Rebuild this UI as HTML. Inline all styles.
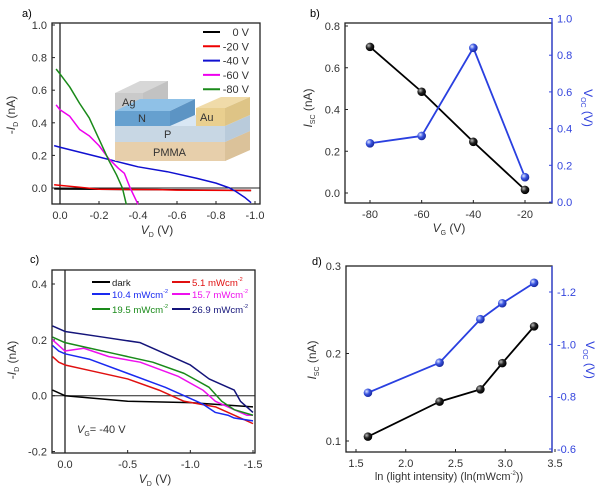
<!DOCTYPE html>
<html><head><meta charset="utf-8"><style>
body{margin:0;background:#fff;width:600px;height:497px;overflow:hidden}
svg{font-family:"Liberation Sans",sans-serif;display:block}
</style></head><body>
<svg id="fig" width="600" height="497" viewBox="0 0 600 497">
<defs>
<radialGradient id="gk" cx="35%" cy="35%" r="65%"><stop offset="0" stop-color="#bbb"/><stop offset="0.5" stop-color="#222"/><stop offset="1" stop-color="#000"/></radialGradient>
<radialGradient id="gb" cx="35%" cy="35%" r="65%"><stop offset="0" stop-color="#dfe6ff"/><stop offset="0.5" stop-color="#3a55e0"/><stop offset="1" stop-color="#1a2aa0"/></radialGradient>
</defs>
<g id="inset" opacity="0.92">
<polygon points="115,142 225,142 250,131 250,150 225,161 115,161" fill="#e6cca4"/>
<polygon points="225,142 250,131 250,150 225,161" fill="#d8bd92"/>
<polygon points="115,126 225,126 225,142 115,142" fill="#c4d4e2"/>
<polygon points="225,126 250,115 250,131 225,142" fill="#b4c7d8"/>
<polygon points="170,126 195,115 221,115 196,126" fill="#d6e6f4"/>
<polygon points="196,108 225,108 250,97 221,97" fill="#efd9a2"/>
<polygon points="196,108 225,108 225,126 196,126" fill="#e8cb86"/>
<polygon points="225,108 250,97 250,115 225,126" fill="#dcc07c"/>
<polygon points="140,81 168,81 168,111 143,111 143,93" fill="#bdbdbd"/>
<polygon points="115,93 143,93 168,81 140,81" fill="#d4d4d4"/>
<polygon points="115,93 143,93 143,111 115,111" fill="#c6c6c6"/>
<polygon points="115,111 170,111 195,99 140,99" fill="#86bce6"/>
<polygon points="115,111 170,111 170,126 115,126" fill="#5a98cc"/>
<polygon points="170,111 195,99 195,115 170,126" fill="#4f8cc0"/>
<text x="122" y="106" font-size="11" fill="#222">Ag</text>
<text x="138" y="122" font-size="11" fill="#222">N</text>
<text x="200" y="121" font-size="11" fill="#222">Au</text>
<text x="164" y="138" font-size="11" fill="#222">P</text>
<text x="153" y="156" font-size="11" fill="#222">PMMA</text>
</g>
</svg>
<script>
// ---------- data ----------
const aSeriesNames=["0 V","-20 V","-40 V","-60 V","-80 V"];
const aX0=[0.03,0,-0.2,-0.5,-0.8,-0.98];
const aY0=[-0.005,-0.006,-0.008,-0.01,-0.013,-0.015];
const aX20=[0.03,0,-0.1,-0.2,-0.5,-0.6,-0.98];
const aY20=[0.02,0.016,0.005,-0.008,-0.01,-0.013,-0.015];
const aX40=[0.03,0,-0.1,-0.2,-0.3,-0.4,-0.55,-0.7,-0.8,-0.87,-0.9,-0.95,-0.98];
const aY40=[0.26,0.25,0.22,0.19,0.16,0.13,0.10,0.06,0.03,0,-0.02,-0.06,-0.09];
const aX60=[0.02,0,-0.05,-0.1,-0.15,-0.2,-0.25,-0.3,-0.33,-0.36,-0.4];
const aY60=[0.51,0.48,0.44,0.36,0.32,0.26,0.18,0.12,0.09,0,-0.1];
const aX80=[0.02,0,-0.05,-0.1,-0.15,-0.2,-0.25,-0.29,-0.32,-0.34];
const aY80=[0.73,0.70,0.62,0.52,0.43,0.30,0.17,0.08,0.0,-0.1];
const bVg=[-80,-60,-40,-20];
const bIsc=[0.70,0.485,0.245,0.015];
const bVoc=[0.32,0.36,0.84,0.135];
const cNames=["dark","5.1 mWcm","10.4 mWcm","15.7 mWcm","19.5 mWcm","26.9 mWcm"];
const cXdark=[0.1,0,-0.5,-1.0,-1.5];
const cYdark=[0.02,0.0,-0.02,-0.025,-0.04];
const cX5=[0.1,0.05,0,-0.2,-0.5,-0.75,-0.85,-0.95,-1.2,-1.35,-1.5];
const cY5=[0.14,0.12,0.11,0.09,0.06,0.02,0,-0.02,-0.04,-0.07,-0.1];
const cX10=[0.1,0.05,0,-0.2,-0.5,-0.8,-0.95,-1.1,-1.2,-1.3,-1.35,-1.5];
const cY10=[0.18,0.16,0.15,0.13,0.08,0.03,0,-0.03,-0.06,-0.07,-0.08,-0.09];
const cX15=[0.1,0,-0.15,-0.35,-0.6,-0.9,-1.1,-1.2,-1.35,-1.45,-1.5];
const cY15=[0.2,0.16,0.17,0.14,0.12,0.07,0.02,-0.02,-0.05,-0.07,-0.07];
const cX19=[0.1,0,-0.2,-0.4,-0.7,-0.95,-1.15,-1.25,-1.35,-1.5];
const cY19=[0.21,0.19,0.17,0.15,0.12,0.08,0.03,-0.02,-0.05,-0.07];
const cX26=[0.1,0,-0.3,-0.6,-0.85,-1.0,-1.15,-1.3,-1.35,-1.4,-1.5];
const cY26=[0.25,0.23,0.21,0.19,0.14,0.11,0.06,0.03,0.02,-0.02,-0.06];
const dLn=[1.62,2.34,2.75,2.97,3.29];
const dIsc=[0.105,0.145,0.159,0.189,0.231];
const dVoc=[-0.815,-0.93,-1.096,-1.157,-1.235];
const aXTicks=[0,-0.2,-0.4,-0.6,-0.8,-1.0];
const aYTicks=[0.0,0.2,0.4,0.6,0.8,1.0];
const bXTicks=[-80,-60,-40,-20];
const bYTicks=[0.0,0.2,0.4,0.6,0.8];
const bY2Ticks=[0.0,0.2,0.4,0.6,0.8,1.0];
const cXTicks=[0.0,-0.5,-1.0,-1.5];
const cYTicks=[-0.2,0.0,0.2,0.4];
const dXTicks=[1.5,2.0,2.5,3.0,3.5];
const dYTicks=[0.1,0.2,0.3];
const dY2Ticks=[-0.6,-0.8,-1.0,-1.2];

// ---------- helpers ----------
const S=document.getElementById('fig');const NS='http://www.w3.org/2000/svg';
const inset=document.getElementById('inset');
function mk(t,at,parent){const e=document.createElementNS(NS,t);for(const k in at)e.setAttribute(k,at[k]);(parent||S).insertBefore(e,parent?null:inset);return e;}
function lin(d0,d1,p0,p1){return v=>p0+(v-d0)*(p1-p0)/(d1-d0);}
function fmt(v,n){return (v<0?'-':'')+Math.abs(v).toFixed(n);}
function box(x0,y0,x1,y1,name){const r=mk('rect',{x:x0,y:y0,width:x1-x0,height:y1-y0,fill:'none',stroke:'#222','stroke-width':1.3});}
function xTicks(ticks,sx,y,n,name){ticks.forEach(t=>{mk('line',{x1:sx(t),x2:sx(t),y1:y,y2:y-3,stroke:'#222'});const e=mk('text',{x:sx(t),y:y+15,'font-size':11,'text-anchor':'middle',fill:'#333'});e.textContent=t===0?'0'+(n?'.'+'0'.repeat(n):''):fmt(t,n);});}
function yTicks(ticks,sy,x,n,name,right,col){ticks.forEach(t=>{mk('line',{x1:x,x2:right?x-3:x+3,y1:sy(t),y2:sy(t),stroke:col||'#222'});const e=mk('text',{x:right?x+5:x-5,y:sy(t)+4,'font-size':11,'text-anchor':right?'start':'end',fill:col||'#333'});e.textContent=fmt(t,n);});}
function line(xs,ys,sx,sy,col,name,w){const p=mk('polyline',{points:xs.map((v,i)=>sx(v)+','+sy(ys[i])).join(' '),fill:'none',stroke:col,'stroke-width':w||1.5,'stroke-linejoin':'round'});}
function dots(xs,ys,sx,sy,grad,name){xs.forEach((v,i)=>{const c=mk('circle',{cx:sx(v),cy:sy(ys[i]),r:4.3,fill:'url(#'+grad+')'});});}
function txt(x,y,s,at,name){const e=mk('text',Object.assign({x:x,y:y,'font-size':12,fill:'#333'},at||{}));e.innerHTML=s;return e;}

// ---------- panel a ----------
{const sx=lin(0,-1,60,255),sy=lin(0,1,188,25);
box(52,23,260,204,'panel-a-frame');
mk('line',{x1:sx(0),x2:sx(0),y1:23,y2:204,stroke:'#222','stroke-width':1.3});
mk('line',{x1:52,x2:260,y1:sy(0),y2:sy(0),stroke:'#222','stroke-width':1});
xTicks(aXTicks,sx,204,1,'panel-a-x-tick');
yTicks(aYTicks,sy,52,1,'panel-a-y-tick');
const cols=['#000','#e00','#1010d0','#ee00ee','#1a8a1a'];
const XS=[aX0,aX20,aX40,aX60,aX80],YS=[aY0,aY20,aY40,aY60,aY80];
XS.forEach((x,i)=>line(x,YS[i],sx,sy,cols[i],'panel-a-curve-'+i));
aSeriesNames.forEach((n,i)=>{const y=32+i*14.3;const l=mk('line',{x1:203,x2:220,y1:y,y2:y,stroke:cols[i],'stroke-width':2});txt(249,y+4,n,{'text-anchor':'end','font-size':11},'legend-a-entry');});
txt(22,17,'a)',{'font-size':11,fill:'#000'},'panel-a-label');
txt(157,234,'<tspan font-style="italic">V</tspan><tspan font-size="7" dy="3">D</tspan><tspan dy="-3"> (V)</tspan>',{'text-anchor':'middle'},'panel-a-x-title');
txt(0,0,'-<tspan font-style="italic">I</tspan><tspan font-size="7" dy="3">D</tspan><tspan dy="-3"> (nA)</tspan>',{'text-anchor':'middle',transform:'translate(15,115) rotate(-90)'},'panel-a-y-title');}

// ---------- panel b ----------
{const sx=lin(-80,-20,370,525),sy=lin(0,0.8,193,26),sy2=lin(0,1,202,18.5);
box(345,23,552,203,'panel-b-frame');
mk('line',{x1:552,x2:552,y1:18,y2:203,stroke:'#3344dd','stroke-width':1.3});
xTicks(bXTicks,sx,203,0,'panel-b-x-tick');
yTicks(bYTicks,sy,345,1,'panel-b-y-tick');
yTicks(bY2Ticks,sy2,552,1,'panel-b-y2-tick',true,'#3344dd');
line(bVg,bIsc,sx,sy,'#000','isc-line-b',1.8);line(bVg,bVoc,sx,sy2,'#2a40e0','voc-line-b',1.8);
dots(bVg,bIsc,sx,sy,'gk','isc-point-b');dots(bVg,bVoc,sx,sy2,'gb','voc-point-b');
txt(310,17,'b)',{'font-size':11,fill:'#000'},'panel-b-label');
txt(449,232,'<tspan font-style="italic">V</tspan><tspan font-size="7" dy="3">G</tspan><tspan dy="-3"> (V)</tspan>',{'text-anchor':'middle'},'panel-b-x-title');
txt(0,0,'<tspan font-style="italic">I</tspan><tspan font-size="7" dy="3">SC</tspan><tspan dy="-3"> (nA)</tspan>',{'text-anchor':'middle',transform:'translate(312,108) rotate(-90)'},'panel-b-y-title');
txt(0,0,'V<tspan font-size="7" dy="3">OC</tspan><tspan dy="-3"> (V)</tspan>',{'text-anchor':'middle',fill:'#3344dd',transform:'translate(584,108) rotate(90)'},'panel-b-y2-title');}

// ---------- panel c ----------
{const sx=lin(0,-1.5,65,253),sy=lin(0,0.4,395.7,284);
box(52,270,255,453,'panel-c-frame');
mk('line',{x1:sx(0),x2:sx(0),y1:270,y2:453,stroke:'#222','stroke-width':1.3});
mk('line',{x1:52,x2:255,y1:sy(0),y2:sy(0),stroke:'#222','stroke-width':1});
xTicks(cXTicks,sx,453,1,'panel-c-x-tick');
yTicks(cYTicks,sy,52,1,'panel-c-y-tick');
const cols=['#000','#e01010','#1a2af0','#ee10ee','#1a8a1a','#14147a'];
const XS=[cXdark,cX5,cX10,cX15,cX19,cX26],YS=[cYdark,cY5,cY10,cY15,cY19,cY26];
XS.forEach((x,i)=>line(x,YS[i],sx,sy,cols[i],'panel-c-curve-'+i));
const lx=[92,172],ly=[282,294,309];
cNames.forEach((n,i)=>{const X=lx[i%2],Y=ly[Math.floor(i/2)];const l=mk('line',{x1:X,x2:X+18,y1:Y,y2:Y,stroke:cols[i],'stroke-width':2});txt(X+20,Y+4,n+(i?'<tspan font-size="5.5" dy="-5">-2</tspan>':''),{'font-size':9.6,fill:i?cols[i]:'#222'},'legend-c-entry');});
txt(30,263,'c)',{'font-size':11,fill:'#000'},'panel-c-label');
txt(77,433,'<tspan font-style="italic">V</tspan><tspan font-size="7" dy="3">G</tspan><tspan dy="-3">= -40 V</tspan>',{'font-size':11},'vg-annotation');
txt(155,483,'<tspan font-style="italic">V</tspan><tspan font-size="7" dy="3">D</tspan><tspan dy="-3"> (V)</tspan>',{'text-anchor':'middle'},'panel-c-x-title');
txt(0,0,'-<tspan font-style="italic">I</tspan><tspan font-size="7" dy="3">D</tspan><tspan dy="-3"> (nA)</tspan>',{'text-anchor':'middle',transform:'translate(16,360) rotate(-90)'},'panel-c-y-title');}

// ---------- panel d ----------
{const sx=lin(1.5,3.5,356,555),sy=lin(0.1,0.3,441,266),sy2=lin(-0.6,-1.2,449,292);
box(346,266,552,452,'panel-d-frame');
mk('line',{x1:552,x2:552,y1:266,y2:452,stroke:'#3344dd','stroke-width':1.3});
xTicks(dXTicks,sx,452,1,'panel-d-x-tick');
yTicks(dYTicks,sy,346,1,'panel-d-y-tick');
yTicks(dY2Ticks,sy2,552,1,'panel-d-y2-tick',true,'#3344dd');
line(dLn,dIsc,sx,sy,'#000','isc-line-d',1.8);line(dLn,dVoc,sx,sy2,'#2a40e0','voc-line-d',1.8);
dots(dLn,dIsc,sx,sy,'gk','isc-point-d');dots(dLn,dVoc,sx,sy2,'gb','voc-point-d');
txt(312,265,'d)',{'font-size':11,fill:'#000'},'panel-d-label');
txt(449,480,'ln (light intensity) (ln(mWcm<tspan font-size="6" dy="-5">-2</tspan><tspan dy="5">))</tspan>',{'text-anchor':'middle','font-size':11},'panel-d-x-title');
txt(0,0,'<tspan font-style="italic">I</tspan><tspan font-size="7" dy="3">SC</tspan><tspan dy="-3"> (nA)</tspan>',{'text-anchor':'middle',transform:'translate(316,360) rotate(-90)'},'panel-d-y-title');
txt(0,0,'V<tspan font-size="7" dy="3">OC</tspan><tspan dy="-3"> (V)</tspan>',{'text-anchor':'middle',fill:'#3344dd',transform:'translate(586,360) rotate(90)'},'panel-d-y2-title');}
</script>
</body></html>
